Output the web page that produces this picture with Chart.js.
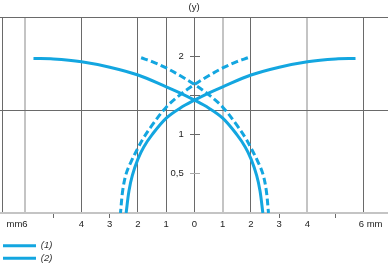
<!DOCTYPE html>
<html>
<head>
<meta charset="utf-8">
<script src="https://cdn.jsdelivr.net/npm/chart.js@4.4.1/dist/chart.umd.min.js"></script>
<style>
  html, body { margin: 0; padding: 0; background: #fff; overflow: hidden; }
  #wrap { width: 388px; height: 267px; overflow: hidden; }
</style>
</head>
<body>
<div id="wrap"><canvas id="chart" width="388" height="273"></canvas></div>
<script>
// --- data (x in mm, y) ---
const solidLeftX  = [-5.7, -5, -4, -3, -2, -1, -0.5, 0, 0.5, 1, 1.5, 1.8, 2, 2.2, 2.32, 2.42];
const solidLeftY  = [1.97, 1.965, 1.93, 1.86, 1.76, 1.61, 1.53, 1.44, 1.34, 1.21, 1.0, 0.84, 0.69, 0.48, 0.28, 0];
const solidRightX = [5.7, 5, 4, 3, 2, 1, 0.5, 0, -0.5, -1, -1.5, -1.8, -2, -2.2, -2.32, -2.42];
const solidRightY = [1.97, 1.965, 1.93, 1.86, 1.76, 1.61, 1.53, 1.44, 1.34, 1.21, 1.0, 0.84, 0.69, 0.48, 0.28, 0];

const dashLeftX  = [-1.89, -1.5, -1, -0.5, 0, 0.5, 1, 1.5, 1.8, 2, 2.25, 2.42, 2.54, 2.62];
const dashLeftY  = [1.98, 1.93, 1.85, 1.75, 1.64, 1.51, 1.35, 1.12, 0.96, 0.83, 0.65, 0.5, 0.29, 0];
const dashRightX = [1.89, 1.5, 1, 0.5, 0, -0.5, -1, -1.5, -1.8, -2, -2.25, -2.42, -2.54, -2.62];
const dashRightY = [1.98, 1.93, 1.85, 1.75, 1.64, 1.51, 1.35, 1.12, 0.96, 0.83, 0.65, 0.5, 0.29, 0];

const seriesNames = ['(1)', '(2)'];

const xTickVals   = [-6.78, -6, -5, -4, -3, -2, -1, 0, 1, 2, 3, 4, 5, 6];
const xTickLabels = ['', 'mm6      ', '', '4', '3', '2', '1', '0', '1', '2', '3', '4', '', '     6 mm'];

const yTickVals   = [0.5, 1, 1.31, 1.5, 2, 2.5];
const yTickLabels = ['0,5', '1', '', '', '2', ''];

// --- styling ---
const BLUE = '#13a6e0';
const DARK = '#6a6a6a';
const LIGHT = '#c4c4c4';
const NONE = 'rgba(0,0,0,0)';
const FONT = "'Liberation Sans', Arial, sans-serif";

// grid style per x tick
const xGridColor = {'-6.78': DARK, '-6': LIGHT, '-4': DARK, '-2': DARK, '-1': DARK, '0': DARK,
                    '1': LIGHT, '2': DARK, '4': LIGHT, '6': DARK};
const xGridWidth = {'-6': 2, '1': 2, '4': 2};
const xTickMarks = [-5, -3, 3, 5];

function pts(xs, ys) {
    return xs.map((x, i) => ({ x: x, y: ys[i] }));
}

// two arcs per curve, broken by a gap
const solidData = pts(solidLeftX, solidLeftY).concat([{ x: 0, y: null }], pts(solidRightX, solidRightY));
const dashData  = pts(dashLeftX, dashLeftY).concat([{ x: 0, y: null }], pts(dashRightX, dashRightY));

// trailing spaces push the second legend entry onto its own row
const legendPad = ' '.repeat(70);
// y labels sit on the axis line, pad them off to the left
const yLabelPad = ' '.repeat(6);

new Chart(document.getElementById('chart'), {
    type: 'line',
    data: {
        datasets: [
            {
                label: seriesNames[0] + legendPad,
                data: solidData,
                borderColor: BLUE,
                backgroundColor: BLUE,
                borderWidth: 3,
                pointRadius: 0,
                tension: 0.35,
                fill: false
            },
            {
                label: seriesNames[1] + legendPad,
                data: dashData,
                borderColor: BLUE,
                backgroundColor: BLUE,
                borderWidth: 3,
                borderDash: [7, 3.5],
                pointRadius: 0,
                tension: 0.35,
                fill: false
            }
        ]
    },
    options: {
        responsive: false,
        animation: false,
        devicePixelRatio: 1,
        layout: { padding: 0 },
        scales: {
            x: {
                type: 'linear',
                min: -6.885,
                max: 6.85,
                afterBuildTicks: s => { s.ticks = xTickVals.map(v => ({ value: v })); },
                afterFit: s => { s.height = 25; },
                grid: {
                    color: c => xGridColor[String(c.tick.value)] || NONE,
                    lineWidth: c => xGridWidth[String(c.tick.value)] || 1,
                    tickColor: c => xTickMarks.includes(c.tick.value) ? DARK : NONE,
                    tickLength: 5,
                    tickWidth: 1
                },
                border: { color: LIGHT, width: 2 },
                ticks: {
                    autoSkip: false,
                    maxRotation: 0,
                    padding: 1,
                    color: '#222',
                    font: { family: FONT, size: 9.5 },
                    callback: (v, i) => xTickLabels[i]
                }
            },
            y: {
                type: 'linear',
                min: 0,
                max: 2.5,
                position: { x: 0.18 },
                afterBuildTicks: s => { s.ticks = yTickVals.map(v => ({ value: v })); },
                grid: {
                    color: c => (c.tick && (c.tick.value === 1.31 || c.tick.value === 2.5)) ? DARK : NONE,
                    tickColor: c => {
                        if (!c.tick) return NONE;
                        if (c.tick.value === 0.5) return '#aaa';
                        if (c.tick.value === 1 || c.tick.value === 1.5 || c.tick.value === 2) return DARK;
                        return NONE;
                    },
                    tickLength: 10,
                    tickWidth: 1
                },
                border: { display: false },
                ticks: {
                    padding: 5,
                    color: '#222',
                    font: { family: FONT, size: 9.5 },
                    callback: (v, i) => yTickLabels[i] ? yTickLabels[i] + yLabelPad : ''
                }
            }
        },
        plugins: {
            title: {
                display: true,
                text: '(y)',
                color: '#222',
                font: { family: FONT, size: 9.5, weight: 'normal' },
                padding: { top: 2, bottom: 3.6 }
            },
            legend: {
                position: 'bottom',
                align: 'start',
                labels: {
                    usePointStyle: true,
                    pointStyle: 'line',
                    pointStyleWidth: 33,
                    padding: 3,
                    color: '#333',
                    font: { family: FONT, size: 9.5, style: 'italic' }
                }
            },
            tooltip: { enabled: false }
        }
    }
});
</script>
</body>
</html>
